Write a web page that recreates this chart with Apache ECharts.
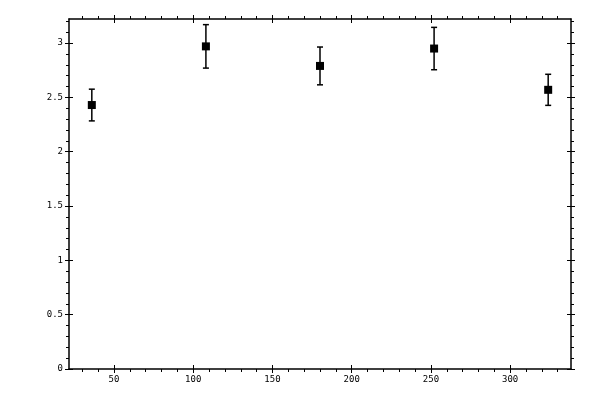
<!DOCTYPE html>
<html>
<head>
<meta charset="utf-8">
<script src="https://cdn.jsdelivr.net/npm/echarts@6/dist/echarts.min.js"></script>
<style>
  html, body { margin: 0; padding: 0; background: #fff; }
  #chart { width: 600px; height: 400px; }
</style>
</head>
<body>
<div id="chart"></div>
<script>
// points
const xValues = [36, 108, 180, 252, 324]
const yValues = [2.43, 2.97, 2.79, 2.95, 2.57]
const yErrors = [0.146, 0.2, 0.174, 0.195, 0.143]

// axis ranges and ticks
const xRange = [21.6, 338.4]
const yRange = [0, 3.222]
const xMajorTicks = [50, 100, 150, 200, 250, 300]
const xMinorTicks = [30, 40, 60, 70, 80, 90, 110, 120, 130, 140, 160, 170, 180, 190,
  210, 220, 230, 240, 260, 270, 280, 290, 310, 320, 330]
const yMajorTicks = [0, 0.5, 1, 1.5, 2, 2.5, 3]
const yMinorTicks = [0.1, 0.2, 0.3, 0.4, 0.6, 0.7, 0.8, 0.9, 1.1, 1.2, 1.3, 1.4,
  1.6, 1.7, 1.8, 1.9, 2.1, 2.2, 2.3, 2.4, 2.6, 2.7, 2.8, 2.9, 3.1, 3.2]

const labelFont = {
  color: '#000',
  fontFamily: 'DejaVu Sans Mono',
  fontSize: 9
}

// one axis per tick style: major outside (+ line/labels), major inside, minor outside
function makeAxes (range, position, major, minor, withLabels) {
  const base = {
    type: 'value',
    position,
    min: range[0],
    max: range[1],
    splitLine: { show: false },
    axisLine: { show: false, onZero: false },
    axisLabel: { show: false },
    axisTick: { show: false }
  }
  return [
    Object.assign({}, base, {
      axisLine: { show: true, onZero: false, lineStyle: { color: '#000', width: 1.5 } },
      axisTick: {
        show: true,
        customValues: major,
        length: 4,
        lineStyle: { color: '#000', width: 1 }
      },
      axisLabel: Object.assign({
        show: withLabels,
        customValues: major,
        margin: 6
      }, labelFont)
    }),
    Object.assign({}, base, {
      axisTick: {
        show: true,
        inside: true,
        customValues: major,
        length: 4,
        lineStyle: { color: '#000', width: 1 }
      }
    }),
    Object.assign({}, base, {
      axisTick: {
        show: true,
        customValues: minor,
        length: 3,
        lineStyle: { color: '#000', width: 1 }
      }
    })
  ]
}

const points = xValues.map((x, i) => [x, yValues[i]])
const bars = xValues.map((x, i) => [x, yValues[i] - yErrors[i], yValues[i] + yErrors[i]])

let myChart = echarts.init(document.getElementById('chart'))
myChart.setOption({
  animation: false,
  grid: {
    left: 69,
    right: 29,
    top: 19,
    bottom: 31,
    containLabel: false
  },
  xAxis: makeAxes(xRange, 'bottom', xMajorTicks, xMinorTicks, true)
    .concat(makeAxes(xRange, 'top', xMajorTicks, xMinorTicks, false)),
  yAxis: makeAxes(yRange, 'left', yMajorTicks, yMinorTicks, true)
    .concat(makeAxes(yRange, 'right', yMajorTicks, yMinorTicks, false)),
  series: [{
    type: 'custom',
    renderItem: function (params, api) {
      const x = api.value(0)
      const lo = api.coord([x, api.value(1)])
      const hi = api.coord([x, api.value(2)])
      const cap = 3
      const style = { stroke: '#000', lineWidth: 1.5 }
      return {
        type: 'group',
        children: [
          { type: 'line', shape: { x1: lo[0], y1: lo[1], x2: hi[0], y2: hi[1] }, style },
          { type: 'line', shape: { x1: lo[0] - cap, y1: lo[1], x2: lo[0] + cap, y2: lo[1] }, style },
          { type: 'line', shape: { x1: hi[0] - cap, y1: hi[1], x2: hi[0] + cap, y2: hi[1] }, style }
        ]
      }
    },
    encode: { x: 0, y: [1, 2] },
    data: bars,
    z: 2
  }, {
    type: 'scatter',
    symbol: 'rect',
    symbolSize: 8,
    itemStyle: { color: '#000', opacity: 1 },
    data: points,
    z: 3
  }]
})
</script>
</body>
</html>
